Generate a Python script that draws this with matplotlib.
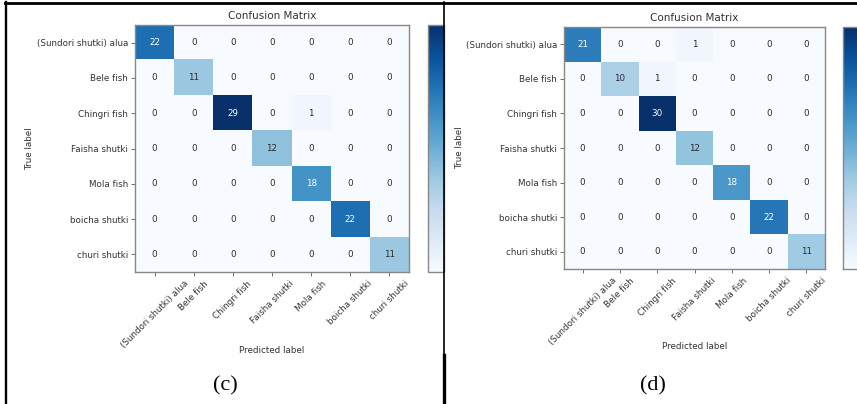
import numpy as np
import matplotlib
matplotlib.use("Agg")
import matplotlib.pyplot as plt
from matplotlib.lines import Line2D

W, H = 857, 404

labels = ["(Sundori shutki) alua", "Bele fish", "Chingri fish", "Faisha shutki",
          "Mola fish", "boicha shutki", "churi shutki"]

cm_c = [
    [22, 0, 0, 0, 0, 0, 0],
    [0, 11, 0, 0, 0, 0, 0],
    [0, 0, 29, 0, 1, 0, 0],
    [0, 0, 0, 12, 0, 0, 0],
    [0, 0, 0, 0, 18, 0, 0],
    [0, 0, 0, 0, 0, 22, 0],
    [0, 0, 0, 0, 0, 0, 11],
]

cm_d = [
    [21, 0, 0, 1, 0, 0, 0],
    [0, 10, 1, 0, 0, 0, 0],
    [0, 0, 30, 0, 0, 0, 0],
    [0, 0, 0, 12, 0, 0, 0],
    [0, 0, 0, 0, 18, 0, 0],
    [0, 0, 0, 0, 0, 22, 0],
    [0, 0, 0, 0, 0, 0, 11],
]

captions = ["(c)", "(d)"]

fig = plt.figure(figsize=(W / 100, H / 100), dpi=100)
fig.patch.set_facecolor("white")

FS = 6.3


def px_rect(x0, y0, x1, y1):
    """Pixel box (top-left origin) -> figure fraction rect."""
    return [x0 / W, 1 - y1 / H, (x1 - x0) / W, (y1 - y0) / H]


def draw_cm(cm, ax_box, cb_box, ylab_x, xlab_y, cap_x, caption):
    cm = np.array(cm)
    ax = fig.add_axes(px_rect(*ax_box))
    im = ax.imshow(cm, cmap="Blues", aspect="auto", interpolation="nearest")
    thresh = (cm.max() + cm.min()) / 2.0
    for i in range(cm.shape[0]):
        for j in range(cm.shape[1]):
            ax.text(j, i, str(cm[i, j]), ha="center", va="center", fontsize=FS,
                    color="white" if cm[i, j] > thresh else "#2a2a2a")
    ax.set_xticks(range(len(labels)))
    ax.set_yticks(range(len(labels)))
    ax.set_xticklabels(labels, rotation=45, fontsize=FS, color="#333333")
    ax.set_yticklabels(labels, fontsize=FS, color="#333333")
    ax.tick_params(length=3, width=0.6, color="#555555", pad=2)
    for s in ax.spines.values():
        s.set_color("#888888")
        s.set_linewidth(1.0)
    ax.set_title("Confusion Matrix", fontsize=7.5, color="#333333", pad=4)
    ax.set_xlabel("Predicted label", fontsize=FS, color="#333333")
    ax.set_ylabel("True label", fontsize=FS, color="#333333")
    x0, y0, x1, y1 = ax_box
    ax.xaxis.set_label_coords(0.5, -(xlab_y - y1) / (y1 - y0))
    ax.yaxis.set_label_coords(-(x0 - ylab_x) / (x1 - x0), 0.5)

    cax = fig.add_axes(px_rect(*cb_box))
    cb = fig.colorbar(im, cax=cax)
    cb.set_ticks([])
    cb.outline.set_edgecolor("#888888")
    cb.outline.set_linewidth(1.0)

    fig.text(cap_x / W, 1 - 386 / H, caption, ha="center", va="center",
             fontsize=16, family="Liberation Serif", color="black")


draw_cm(cm_c, (135, 25, 409, 272), (428, 25, 444, 272), 34, 346, 225, captions[0])
draw_cm(cm_d, (564, 27, 825, 269), (843, 27, 866, 269), 464, 342, 653, captions[1])


# Table frame around the two panels
def hline(y, x0, x1, lw):
    fig.add_artist(Line2D([x0 / W, x1 / W], [1 - y / H, 1 - y / H],
                          color="black", linewidth=lw, transform=fig.transFigure))


def vline(x, y0, y1, lw):
    fig.add_artist(Line2D([x / W, x / W], [1 - y0 / H, 1 - y1 / H],
                          color="black", linewidth=lw, transform=fig.transFigure))


hline(3, 5, W, 2.0)
vline(6, 2, H, 1.7)
vline(443.5, 2, 355, 1.2)
vline(443.5, 355, H, 2.4)

fig.savefig("out.png", dpi=100)
